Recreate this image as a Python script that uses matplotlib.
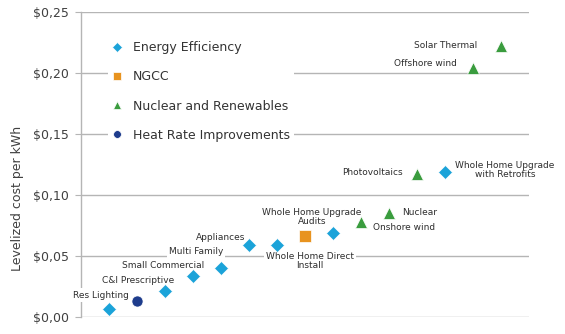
import matplotlib.pyplot as plt
from matplotlib.ticker import FuncFormatter

# Options triées par coût actualisé
options = [
    "Res Lighting", "Heat Rate", "C&I Prescriptive", "Small Commercial",
    "Multi Family", "Appliances", "Whole Home Direct\nInstall", "NGCC",
    "Whole Home Upgrade\nAudits", "Onshore wind", "Nuclear", "Photovoltaics",
    "Whole Home Upgrade\nwith Retrofits", "Offshore wind", "Solar Thermal",
]
costs = [0.0065, 0.013, 0.021, 0.034, 0.040, 0.059, 0.059, 0.066,
         0.069, 0.078, 0.085, 0.117, 0.119, 0.204, 0.222]
groups = ["ee", "hr", "ee", "ee", "ee", "ee", "ee", "ngcc",
          "ee", "nr", "nr", "nr", "ee", "nr", "nr"]

group_names = {
    "ee": "Energy Efficiency",
    "ngcc": "NGCC",
    "nr": "Nuclear and Renewables",
    "hr": "Heat Rate Improvements",
}
styles = {
    "ee": dict(marker="D", color="#1ba3d9", ms=7),
    "ngcc": dict(marker="s", color="#e8931f", ms=8.5),
    "nr": dict(marker="^", color="#3a9c3e", ms=9),
    "hr": dict(marker="o", color="#1e3c8c", ms=8),
}

# décalage des étiquettes (pixels) et alignement
label_pos = {
    "Res Lighting": (-8, 14, "center"),
    "C&I Prescriptive": (-27, 11, "center"),
    "Small Commercial": (-30, 10, "center"),
    "Multi Family": (-25, 17, "center"),
    "Appliances": (-28, 8, "center"),
    "Whole Home Direct\nInstall": (33, -16, "center"),
    "Whole Home Upgrade\nAudits": (-21, 15.5, "center"),
    "Onshore wind": (12, -6, "left"),
    "Nuclear": (13, 1, "left"),
    "Photovoltaics": (-14, 2, "right"),
    "Whole Home Upgrade\nwith Retrofits": (60, 2, "center"),
    "Offshore wind": (-16, 5, "right"),
    "Solar Thermal": (-24, 1, "right"),
}

fig = plt.figure(figsize=(5.65, 3.34), dpi=100)
ax = fig.add_axes([0.1434, 0.0509, 0.7925, 0.9131])

xs = list(range(1, len(costs) + 1))

for g in ["ee", "ngcc", "nr", "hr"]:
    gx = [x for x, gg in zip(xs, groups) if gg == g]
    gy = [c for c, gg in zip(costs, groups) if gg == g]
    st = styles[g]
    ax.plot(gx, gy, linestyle="none", marker=st["marker"], color=st["color"],
            markersize=st["ms"], markeredgecolor="white", markeredgewidth=0.5,
            label=group_names[g], zorder=4)

for x, c, name in zip(xs, costs, options):
    if name not in label_pos:
        continue
    dx, dy, ha = label_pos[name]
    ax.annotate(name, (x, c), xytext=(dx, dy), textcoords="offset pixels",
                ha=ha, va="center", fontsize=6.5, color="#2e2e2e",
                multialignment="center", linespacing=1.0, zorder=3,
                bbox=dict(facecolor="white", edgecolor="none", pad=1.5))

ax.set_xlim(0, 16)
ax.set_ylim(0, 0.25)
ax.set_yticks([0, 0.05, 0.10, 0.15, 0.20, 0.25])
ax.yaxis.set_major_formatter(FuncFormatter(lambda v, p: f"${v:.2f}".replace(".", ",")))
ax.set_xticks([])
ax.grid(axis="y", color="#b5b5b5", linewidth=1)
ax.set_axisbelow(True)
for s in ["top", "right", "bottom"]:
    ax.spines[s].set_visible(False)
ax.spines["left"].set_color("#b5b5b5")
ax.spines["left"].set_linewidth(1)
ax.tick_params(axis="y", length=4, color="#b5b5b5", labelsize=9,
               labelcolor="#404040", pad=5)
ax.set_ylabel("Levelized cost per kWh", fontsize=9, color="#404040")
ax.yaxis.set_label_coords(-0.128, 0.39)

leg = ax.legend(loc="upper left", bbox_to_anchor=(0.06, 0.917), fontsize=9,
                labelspacing=1.3, handlelength=0.8, handletextpad=0.9,
                markerscale=0.7, frameon=True, borderpad=0.3, borderaxespad=0)
leg.get_frame().set_facecolor("white")
leg.get_frame().set_edgecolor("none")
leg.get_frame().set_alpha(1)
for t in leg.get_texts():
    t.set_color("#333333")

plt.savefig("out.png", dpi=100)
